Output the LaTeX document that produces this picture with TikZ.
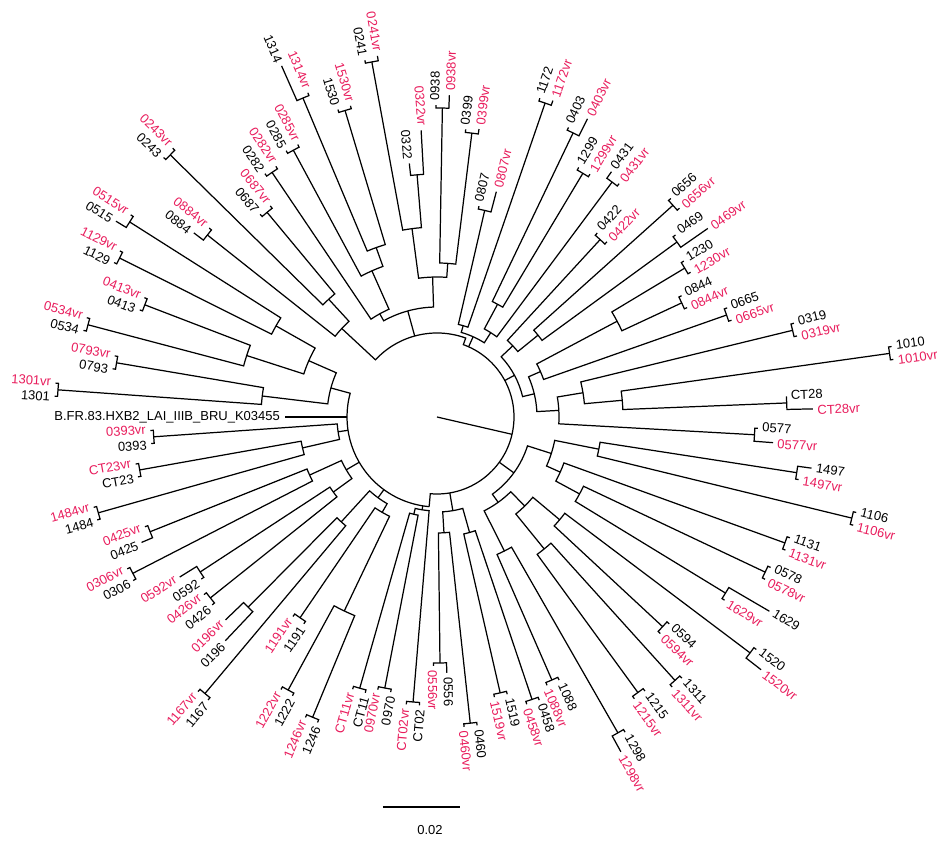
\documentclass[tikz,border=0pt]{standalone}
\usepackage{fontspec}
\setmainfont{Liberation Sans}
\definecolor{vrpink}{RGB}{232,28,92}

% one pair of tips: angle, radius, black stub, red stub, name
\newcommand{\vrpair}[5]{%
  \pgfmathsetmacro{\pa}{#1+372/#2}%
  \pgfmathsetmacro{\pb}{#1-372/#2}%
  \pgfmathsetmacro{\la}{#1+440/#2}%
  \pgfmathsetmacro{\lb}{#1-440/#2}%
  \pgfmathtruncatemacro{\lft}{(#1>90)*(#1<270)}%
  \draw[branch] ({\pa}:{#2+#3}) -- ({\pa}:{#2}) arc[start angle=\pa, end angle=\pb, radius=#2] -- ({\pb}:{#2+#4});
  \ifnum\lft=1
    \node[leaf, rotate=#1+180, anchor=east] (#5) at ({\la}:{#2+#3}) {#5};
    \node[leaf, vrlabel, rotate=#1+180, anchor=east] (#5vr) at ({\lb}:{#2+#4}) {#5vr};
  \else
    \node[leaf, rotate=#1, anchor=west] (#5) at ({\la}:{#2+#3}) {#5};
    \node[leaf, vrlabel, rotate=#1, anchor=west] (#5vr) at ({\lb}:{#2+#4}) {#5vr};
  \fi
}
% inner node: radius, angle 1, radius 1, angle 2, radius 2
\newcommand{\junc}[5]{%
  \draw[branch] ({#2}:{#3}) -- ({#2}:{#1}) arc[start angle=#2, end angle=#4, radius=#1] -- ({#4}:{#5});
}

\tikzset{
  branch/.style={line width=0.7pt},
  leaf/.style={font=\fontsize{7.4}{8}\selectfont, inner sep=2.4pt},
  vrlabel/.style={text=vrpink}
}

\begin{document}
\begin{tikzpicture}[x=0.02cm, y=0.02cm]
\useasboundingbox (-437,-424) rectangle (506,417);

%root and backbone
\draw[branch] (0,0) -- (-13:77);
\draw[branch] (265:90) -- (265:77) arc[start angle=-95, end angle=70, radius=77]
  -- (70:84) arc[start angle=70, end angle=137.1, radius=84] -- (137.1:130);
\draw[branch] (164.7:110) -- (164.7:90) arc[start angle=164.7, end angle=265, radius=90];
\draw[branch] (-36:77) -- (-36:95);
\draw[branch] (-80.4:77) -- (-80.4:95);
\draw[branch] (28.3:77) -- (28.3:88);
\draw[branch] (65.75:77) -- (65.75:88);
\draw[branch] (105.4:84) -- (105.4:110);
\draw[branch] (188.5:90) -- (188.5:100);
\draw[branch] (210.2:90) -- (210.2:105);
\draw[branch] (233.85:90) -- (233.85:100);
\draw[branch] (260.9:90) -- (260.9:94);

%reference
\draw[branch, line width=1pt] (180:90) -- (180:152) node[leaf, anchor=east] (hxb) {B.FR.83.HXB2\_LAI\_IIIB\_BRU\_K03455};

%right
\junc{186}{8}{457}{2.3}{350}
\junc{148}{13.7}{366}{5.15}{186}
\junc{122}{9.43}{148}{-3.2}{318}
\junc{204}{31}{289}{25}{270}
\junc{113}{28}{204}{19.4}{307}
\junc{100}{23.7}{113}{3.1}{122}
\junc{130}{41.9}{317}{36.1}{297}
\junc{104}{47.4}{241}{39}{130}
\junc{88}{43.2}{104}{13.4}{100}
\junc{128}{64.4}{315}{59.1}{284}
\junc{100}{61.75}{128}{53.3}{293}
\junc{95}{77}{212}{71}{332}
\junc{88}{74}{95}{57.5}{100}
\vrpair{2.3}{350}{0}{26}{CT28}
\vrpair{8}{457}{3}{3}{1010}
\vrpair{13.7}{366}{3}{3}{0319}
\vrpair{19.4}{307}{3}{3}{0665}
\vrpair{25}{270}{3}{3}{0844}
\vrpair{31}{289}{3}{3}{1230}
\vrpair{36.1}{297}{3}{33}{0469}
\vrpair{41.9}{317}{3}{3}{0656}
\vrpair{47.4}{241}{3}{3}{0422}
\vrpair{53.3}{293}{8}{3}{0431}
\vrpair{59.1}{284}{3}{3}{1299}
\vrpair{64.4}{315}{3}{19}{0403}
\vrpair{71}{332}{3}{5}{1172}
\vrpair{77}{212}{3}{21}{0807}

%top
\junc{154}{89}{309}{83}{286}
\junc{190}{100.4}{361}{94.7}{243}
\junc{140}{97.55}{190}{86}{154}
\junc{180}{112.8}{346}{106.7}{320}
\junc{160}{118.3}{303}{109.75}{180}
\junc{118}{124}{295}{114}{160}
\junc{110}{119}{118}{91.8}{140}
\junc{160}{135.5}{374}{129.7}{266}
\junc{130}{141.6}{293}{132.6}{160}
\vrpair{83}{286}{3}{5}{0399}
\vrpair{89}{309}{3}{13}{0938}
\vrpair{94.7}{243}{12}{44}{0322}
\vrpair{100.4}{361}{3}{5}{0241}
\vrpair{106.7}{320}{3}{3}{1530}
\vrpair{112.8}{346}{38}{3}{1314}
\vrpair{118.3}{303}{3}{3}{0285}
\vrpair{124}{295}{3}{3}{0282}
\vrpair{129.7}{266}{3}{3}{0687}
\vrpair{135.5}{374}{3}{3}{0243}
\vrpair{141.6}{293}{12}{3}{0884}

%left
\junc{185}{153.4}{355}{147.6}{364}
\junc{200}{165.2}{361}{159}{313}
\junc{140}{162.1}{200}{150.5}{185}
\junc{176}{175.9}{380}{170.4}{325}
\junc{110}{173.15}{176}{156.3}{140}
\junc{138}{195.8}{352}{190.1}{302}
\junc{100}{192.95}{138}{184}{284}
\junc{140}{207.2}{342}{201.8}{309}
\junc{128}{218.6}{290}{213.2}{283}
\junc{105}{215.9}{128}{204.5}{140}
\vrpair{147.6}{364}{12}{3}{0515}
\vrpair{153.4}{355}{3}{3}{1129}
\vrpair{159}{313}{3}{3}{0413}
\vrpair{165.2}{361}{3}{3}{0534}
\vrpair{170.4}{325}{3}{3}{0793}
\vrpair{175.9}{380}{3}{3}{1301}
\vrpair{184}{284}{3}{3}{0393}
\vrpair{190.1}{302}{3}{3}{CT23}
\vrpair{195.8}{352}{3}{3}{1484}
\vrpair{201.8}{309}{12}{3}{0425}
\vrpair{207.2}{342}{3}{3}{0306}
\vrpair{213.2}{283}{3}{20}{0592}
\vrpair{218.6}{290}{3}{3}{0426}

%bottom left
\junc{142}{230}{361}{225.2}{268}
\junc{215}{247.5}{325}{241.4}{311}
\junc{110}{244.45}{215}{235.7}{243}
\junc{100}{240.1}{110}{227.6}{142}
\junc{100}{259.1}{276}{254.1}{282}
\junc{94}{265.2}{286}{256.6}{100}
\vrpair{225.2}{268}{40}{25}{0196}
\vrpair{230}{361}{3}{3}{1167}
\vrpair{235.7}{243}{3}{3}{1191}
\vrpair{241.4}{311}{3}{3}{1222}
\vrpair{247.5}{325}{3}{3}{1246}
\vrpair{254.1}{282}{3}{3}{CT11}
\vrpair{259.1}{276}{3}{3}{0970}
\vrpair{265.2}{286}{3}{3}{CT02}

%bottom
\junc{116}{276.2}{308}{270.7}{246}
\junc{120}{288.6}{298}{282.9}{283}
\junc{95}{285.75}{120}{273.45}{116}
\vrpair{270.7}{246}{10}{3}{0556}
\vrpair{276.2}{308}{3}{3}{0460}
\vrpair{282.9}{283}{3}{3}{1519}
\vrpair{288.6}{298}{3}{3}{0458}

%bottom right
\junc{150}{299.8}{364}{293.6}{287}
\junc{170}{312.1}{355}{306.1}{341}
\junc{160}{323}{392}{317.1}{308}
\junc{125}{320.05}{160}{309.1}{170}
\junc{105}{314.6}{125}{296.7}{150}
\junc{162}{334.7}{363}{328.6}{338}
\junc{135}{340.1}{370}{331.65}{162}
\junc{165}{351.2}{364}{346.3}{427}
\junc{120}{348.75}{165}{335.9}{135}
\junc{95}{342.3}{120}{305.65}{105}
\vrpair{293.6}{287}{3}{3}{1088}
\vrpair{299.8}{364}{3}{18}{1298}
\vrpair{306.1}{341}{3}{3}{1215}
\vrpair{312.1}{355}{3}{3}{1311}
\vrpair{317.1}{308}{3}{3}{0594}
\vrpair{323}{392}{3}{19}{1520}
\vrpair{328.6}{338}{47}{3}{1629}
\vrpair{334.7}{363}{3}{3}{0578}
\vrpair{340.1}{370}{3}{3}{1131}
\vrpair{346.3}{427}{3}{3}{1106}
\vrpair{351.2}{364}{14}{3}{1497}
\vrpair{356.8}{318}{3}{19}{0577}

%scale
\coordinate (sbl) at (-54,-390);
\coordinate (sbr) at (23,-390);
\draw[branch] (sbl) -- (sbr);
\node[leaf] (sblabel) at (-7,-413) {0.02};
\end{tikzpicture}
\end{document}
